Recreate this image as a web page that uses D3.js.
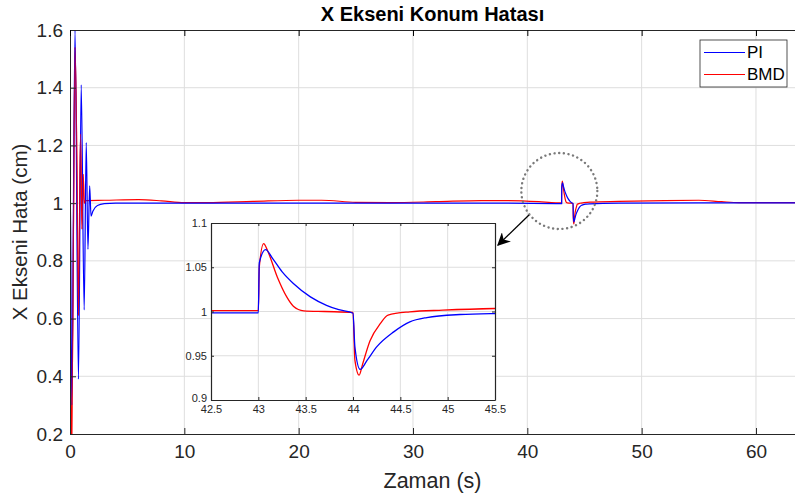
<!DOCTYPE html>
<html>
<head>
<meta charset="utf-8">
<script src="https://cdn.jsdelivr.net/npm/d3@7"></script>
<style>
body { margin: 0; background: #fff; }
svg { font-family: "Liberation Sans", Arial, sans-serif; }
</style>
</head>
<body>
<script>
// series: time (s) and x-axis position error (cm)
var piT = [0, 0.04, 0.15, 0.44, 0.74, 0.98, 1.24, 1.42, 1.57, 1.72, 1.84, 2.0, 2.4, 3.0, 4.0, 12, 25, 38,
  42.5, 43.0, 43.01, 43.077, 43.15, 43.25, 43.37, 43.55, 43.72, 43.85, 44.0, 44.02, 44.075, 44.15, 44.25,
  44.43, 44.6, 44.78, 45.13, 45.5, 48, 55, 64.5];
var piY = [1.0, 1.03, 0.3, 1.6, 0.39, 1.41, 0.63, 1.21, 0.84, 1.06, 0.955, 0.972, 0.992, 0.998, 1.0, 1.0, 1.0, 1.0,
  0.9985, 0.9985, 1.055, 1.07, 1.06, 1.045, 1.0316, 1.0165, 1.007, 1.002, 0.998, 0.96, 0.9346, 0.945, 0.96,
  0.977, 0.9883, 0.9932, 0.9966, 0.9977, 1.0, 1.001, 1.001];

var bmdT = [0, 0.05, 0.15, 0.3, 0.44, 0.6, 0.74, 0.92, 1.05, 1.15, 1.25, 1.35, 3, 6, 8, 10, 12, 16, 20, 22, 25, 28,
  32, 36, 38, 41, 42.5, 43.0, 43.01, 43.056, 43.1, 43.2, 43.3, 43.37, 43.48, 43.7, 44.0, 44.02, 44.065, 44.1,
  44.18, 44.29, 44.37, 44.6, 44.95, 45.5, 48, 52, 55, 57, 58.5, 64.5];
var bmdY = [1.0, 0.35, 0.18, 0.9, 1.54, 1.15, 0.61, 1.24, 0.91, 1.1, 1.0, 1.009, 1.01, 1.012, 1.008, 1.002, 1.002,
  1.006, 1.01, 1.01, 1.003, 1.002, 1.005, 1.009, 1.009, 1.005, 1.001, 1.001, 1.05, 1.0767, 1.068, 1.039, 1.0165,
  1.006, 1.0008, 1.0, 0.999, 0.945, 0.928, 0.94, 0.967, 0.9865, 0.9959, 0.9996, 1.0015, 1.0034, 1.006, 1.009,
  1.01, 1.005, 1.002, 1.002];

var xTicks = [0, 10, 20, 30, 40, 50, 60];
var yTicks = [0.2, 0.4, 0.6, 0.8, 1, 1.2, 1.4, 1.6];
var insetXTicks = [42.5, 43, 43.5, 44, 44.5, 45, 45.5];
var insetYTicks = [0.9, 0.95, 1, 1.05, 1.1];
var seriesNames = ["PI", "BMD"];
var seriesColors = ["#0000ff", "#ff0000"];

var W = 795, H = 497;
var svg = d3.select("body").append("svg").attr("width", W).attr("height", H);

var ink = "#262626", gridCol = "#dedede";

// main axes
var mL = 70, mR = 796, mT = 30, mB = 434;
var x = d3.scaleLinear().domain([0, 63.5]).range([mL, mR]);
var y = d3.scaleLinear().domain([0.2, 1.6]).range([mB, mT]);

var defs = svg.append("defs");
defs.append("clipPath").attr("id", "mainclip").append("rect")
  .attr("x", mL).attr("y", mT).attr("width", mR - mL).attr("height", mB - mT);

// grid
svg.append("g").selectAll("line").data(xTicks.slice(1)).enter().append("line")
  .attr("x1", function(d) { return x(d); }).attr("x2", function(d) { return x(d); })
  .attr("y1", mT).attr("y2", mB).attr("stroke", gridCol).attr("stroke-width", 1);
svg.append("g").selectAll("line").data(yTicks.slice(1, -1)).enter().append("line")
  .attr("y1", function(d) { return y(d); }).attr("y2", function(d) { return y(d); })
  .attr("x1", mL).attr("x2", mR).attr("stroke", gridCol).attr("stroke-width", 1);

function lineFor(xs, ys, T, V) {
  return d3.line().curve(d3.curveMonotoneX)
    .x(function(d, i) { return xs(T[i]); })
    .y(function(d, i) { return ys(V[i]); });
}

var mainSeries = svg.append("g").attr("clip-path", "url(#mainclip)");
mainSeries.append("path").datum(bmdY).attr("d", lineFor(x, y, bmdT, bmdY))
  .attr("fill", "none").attr("stroke", seriesColors[1]).attr("stroke-width", 1.2);
mainSeries.append("path").datum(piY).attr("d", lineFor(x, y, piT, piY))
  .attr("fill", "none").attr("stroke", seriesColors[0]).attr("stroke-width", 1.2);
mainSeries.append("path").datum(bmdY.slice(0, 12)).attr("d", lineFor(x, y, bmdT.slice(0, 12), bmdY.slice(0, 12)))
  .attr("fill", "none").attr("stroke", seriesColors[1]).attr("stroke-width", 1.2).attr("opacity", 0.6);

// axes (MATLAB style: ticks inside, box)
var xAxis = svg.append("g").attr("transform", "translate(0," + mB + ")")
  .call(d3.axisBottom(x).tickValues(xTicks).tickSizeInner(-6).tickSizeOuter(0).tickPadding(7).tickFormat(d3.format("")));
var yAxis = svg.append("g").attr("transform", "translate(" + mL + ",0)")
  .call(d3.axisLeft(y).tickValues(yTicks).tickSizeInner(-6).tickSizeOuter(0).tickPadding(7).tickFormat(d3.format("")));
svg.append("g").attr("transform", "translate(0," + mT + ")")
  .call(d3.axisTop(x).tickValues(xTicks).tickSizeInner(-6).tickSizeOuter(0).tickFormat(""));
[xAxis, yAxis].forEach(function(a) {
  a.selectAll("text").attr("fill", ink).style("font-size", "19px");
  a.selectAll("line,path").attr("stroke", ink);
});
xAxis.selectAll("text").attr("dy", "0.9em");
svg.selectAll(".domain").attr("stroke", ink);

// dotted circle + arrow
svg.append("circle").attr("cx", x(42.8)).attr("cy", y(1.042)).attr("r", 38)
  .attr("fill", "none").attr("stroke", "#7a7a7a").attr("stroke-width", 2.4)
  .attr("stroke-dasharray", "0.1,4.6").attr("stroke-linecap", "round");
defs.append("marker").attr("id", "arr").attr("viewBox", "0 0 10 10").attr("refX", 9).attr("refY", 5)
  .attr("markerWidth", 10).attr("markerHeight", 10).attr("orient", "auto-start-reverse")
  .append("path").attr("d", "M0,0 L10,5 L0,10 L3,5 Z").attr("fill", "#000");
svg.append("line").attr("x1", 529).attr("y1", 215).attr("x2", 498).attr("y2", 245)
  .attr("stroke", "#000").attr("stroke-width", 1.3).attr("marker-end", "url(#arr)");

// inset
var iL = 211, iR = 495, iT = 223, iB = 400;
var ix = d3.scaleLinear().domain([42.5, 45.5]).range([iL, iR]);
var iy = d3.scaleLinear().domain([0.9, 1.1]).range([iB, iT]);
defs.append("clipPath").attr("id", "insetclip").append("rect")
  .attr("x", iL).attr("y", iT).attr("width", iR - iL).attr("height", iB - iT);
var inset = svg.append("g");
inset.append("rect").attr("x", iL).attr("y", iT).attr("width", iR - iL).attr("height", iB - iT).attr("fill", "#fff");
inset.append("g").selectAll("line").data(insetXTicks.slice(1, -1)).enter().append("line")
  .attr("x1", function(d) { return ix(d); }).attr("x2", function(d) { return ix(d); })
  .attr("y1", iT).attr("y2", iB).attr("stroke", gridCol);
inset.append("g").selectAll("line").data(insetYTicks.slice(1, -1)).enter().append("line")
  .attr("y1", function(d) { return iy(d); }).attr("y2", function(d) { return iy(d); })
  .attr("x1", iL).attr("x2", iR).attr("stroke", gridCol);
var insetSeries = inset.append("g").attr("clip-path", "url(#insetclip)");
insetSeries.append("path").datum(bmdY).attr("d", lineFor(ix, iy, bmdT, bmdY))
  .attr("fill", "none").attr("stroke", seriesColors[1]).attr("stroke-width", 1.3);
insetSeries.append("path").datum(piY).attr("d", lineFor(ix, iy, piT, piY))
  .attr("fill", "none").attr("stroke", seriesColors[0]).attr("stroke-width", 1.3);
var ixAxis = inset.append("g").attr("transform", "translate(0," + iB + ")")
  .call(d3.axisBottom(ix).tickValues(insetXTicks).tickSizeInner(-3).tickSizeOuter(0).tickPadding(3).tickFormat(d3.format("")));
var iyAxis = inset.append("g").attr("transform", "translate(" + iL + ",0)")
  .call(d3.axisLeft(iy).tickValues(insetYTicks).tickSizeInner(-3).tickSizeOuter(0).tickPadding(4).tickFormat(d3.format("")));
inset.append("g").attr("transform", "translate(0," + iT + ")")
  .call(d3.axisTop(ix).tickValues(insetXTicks).tickSizeInner(-3).tickSizeOuter(0).tickFormat(""));
inset.append("g").attr("transform", "translate(" + iR + ",0)")
  .call(d3.axisRight(iy).tickValues(insetYTicks).tickSizeInner(-3).tickSizeOuter(0).tickFormat(""));
[ixAxis, iyAxis].forEach(function(a) {
  a.selectAll("text").attr("fill", ink).style("font-size", "11px");
});
ixAxis.selectAll("text").attr("dy", "0.95em");
iyAxis.selectAll("text").filter(function(d) { return d === 0.9; }).attr("dy", "0.1em");
inset.selectAll(".domain, .tick line").attr("stroke", ink);
inset.selectAll(".domain").attr("stroke-width", 1.2);

// legend
var lg = svg.append("g").attr("transform", "translate(700,40)");
lg.append("rect").attr("width", 87).attr("height", 47).attr("fill", "#fff")
  .attr("stroke", ink).attr("stroke-width", 0.8);
seriesNames.forEach(function(n, i) {
  var yy = 12.5 + i * 22;
  lg.append("line").attr("x1", 4).attr("x2", 45).attr("y1", yy).attr("y2", yy)
    .attr("stroke", seriesColors[i]).attr("stroke-width", 1);
  lg.append("text").attr("x", 47).attr("y", yy).attr("dy", "0.35em")
    .style("font-size", "17px").attr("fill", "#000").text(n);
});

// titles
svg.append("text").attr("x", (mL + 795) / 2).attr("y", 21).attr("text-anchor", "middle")
  .style("font-size", "20px").style("font-weight", "bold").attr("fill", "#000").text("X Ekseni Konum Hatası");
svg.append("text").attr("x", (mL + 795) / 2).attr("y", 488).attr("text-anchor", "middle")
  .style("font-size", "21.5px").attr("fill", ink).text("Zaman (s)");
svg.append("text").attr("transform", "translate(27," + ((mT + mB) / 2) + ") rotate(-90)")
  .attr("text-anchor", "middle").style("font-size", "20.5px").attr("fill", ink).text("X Ekseni Hata (cm)");
</script>
</body>
</html>
